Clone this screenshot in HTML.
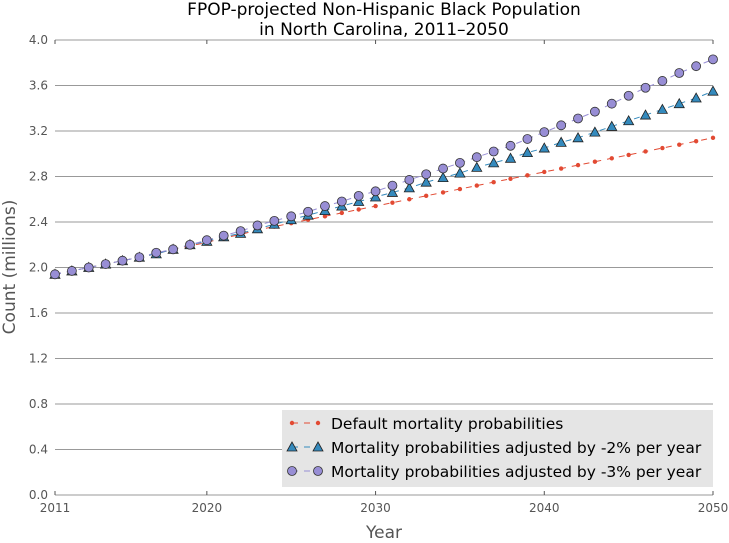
<!DOCTYPE html>
<html><head><meta charset="utf-8"><style>
body{margin:0;background:#fff;font-family:"DejaVu Sans","Liberation Sans",sans-serif}
svg text{font-family:"DejaVu Sans","Liberation Sans",sans-serif}
</style></head><body>
<svg id="c" width="729" height="539" xmlns="http://www.w3.org/2000/svg">
<text x="384" y="15" font-size="17" text-anchor="middle" fill="#000">FPOP-projected Non-Hispanic Black Population</text>
<text x="384" y="35" font-size="17" text-anchor="middle" fill="#000">in North Carolina, 2011–2050</text>
<g id="grid"></g><g id="series"></g><g id="axes"></g>
<text x="384" y="538" font-size="17" text-anchor="middle" fill="#555">Year</text>
<text transform="translate(15,267) rotate(-90)" font-size="17" text-anchor="middle" fill="#555">Count (millions)</text>
<g id="legend"></g>
</svg>
<script>
const years=[];for(let y=2011;y<=2050;y++)years.push(y);
const defaultVals=[1.94,1.97,2.00,2.03,2.06,2.09,2.12,2.16,2.19,2.22,2.26,2.29,2.33,2.36,2.39,2.42,2.45,2.48,2.51,2.54,2.57,2.60,2.63,2.66,2.69,2.72,2.75,2.78,2.81,2.84,2.87,2.90,2.93,2.96,2.99,3.02,3.05,3.08,3.11,3.14];
const adj2Vals=[1.94,1.97,2.00,2.03,2.06,2.09,2.12,2.16,2.20,2.23,2.27,2.30,2.34,2.38,2.42,2.46,2.50,2.54,2.58,2.62,2.66,2.70,2.75,2.79,2.83,2.88,2.92,2.96,3.01,3.05,3.10,3.14,3.19,3.24,3.29,3.34,3.39,3.44,3.49,3.55];
const adj3Vals=[1.94,1.97,2.00,2.03,2.06,2.09,2.13,2.16,2.20,2.24,2.28,2.32,2.37,2.41,2.45,2.49,2.54,2.58,2.63,2.67,2.72,2.77,2.82,2.87,2.92,2.97,3.02,3.07,3.13,3.19,3.25,3.31,3.37,3.44,3.51,3.58,3.64,3.71,3.77,3.83];
const yTicks=[0,0.4,0.8,1.2,1.6,2.0,2.4,2.8,3.2,3.6,4.0];
const xTicks=[2011,2020,2030,2040,2050];
const legendLabels=["Default mortality probabilities","Mortality probabilities adjusted by -2% per year","Mortality probabilities adjusted by -3% per year"];
const NS="http://www.w3.org/2000/svg";
const X0=55,X1=713,Y0=495,Y1=40;
const xs=v=>X0+(v-2011)/(2050-2011)*(X1-X0);
const ys=v=>Y0-v/4*(Y0-Y1);
function mk(t,a,p){const e=document.createElementNS(NS,t);for(const k in a)e.setAttribute(k,a[k]);p.appendChild(e);return e;}
const grid=document.getElementById('grid'),axes=document.getElementById('axes'),ser=document.getElementById('series'),leg=document.getElementById('legend');
yTicks.forEach(v=>{const l=mk('line',{x1:X0,x2:X1,y1:ys(v),y2:ys(v),stroke:'#999','stroke-width':1},grid);


const t=mk('text',{x:X0-7,y:ys(v)+4,'font-size':12,'text-anchor':'end',fill:'#555'},axes);t.textContent=v.toFixed(1);

});
xTicks.forEach(v=>{mk('line',{x1:xs(v),x2:xs(v),y1:Y0,y2:Y0-4,stroke:'#555'},axes);mk('line',{x1:xs(v),x2:xs(v),y1:Y1,y2:Y1+4,stroke:'#555'},axes);
const t=mk('text',{x:xs(v),y:Y0+17,'font-size':12,'text-anchor':'middle',fill:'#555'},axes);t.textContent=v;

});
function marker(kind,x,y,g){
 if(kind==0)return mk('circle',{cx:x,cy:y,r:2.2,fill:'#e24a33'},g);
 if(kind==1)return mk('polygon',{points:`${x},${y-5} ${x-5},${y+4} ${x+5},${y+4}`,fill:'#348abd',stroke:'#222','stroke-width':0.8},g);
 return mk('circle',{cx:x,cy:y,r:4.5,fill:'#988ed5',stroke:'#333','stroke-width':0.8},g);
}
const cols=['#e24a33','#348abd','#988ed5'];
[defaultVals,adj2Vals,adj3Vals].forEach((vals,k)=>{
 const g=mk('g',{},ser);
 
 
 mk('polyline',{points:vals.map((v,i)=>xs(years[i])+','+ys(v)).join(' '),fill:'none',stroke:cols[k],'stroke-width':1,'stroke-dasharray':'6,6'},g);
 vals.forEach((v,i)=>{const m=marker(k,xs(years[i]),ys(v),g);
  
  });
});
mk('rect',{x:282,y:410,width:431,height:77,fill:'#e5e5e5'},leg);
legendLabels.forEach((s,k)=>{const y=423+k*24;
 mk('line',{x1:292,x2:318,y1:y,y2:y,stroke:cols[k],'stroke-dasharray':'6,6'},leg);
 marker(k,292,y,leg);marker(k,318,y,leg);
 const t=mk('text',{x:331,y:y+6,'font-size':15.5,fill:'#000'},leg);t.textContent=s;
 
 });
</script>
</body></html>
